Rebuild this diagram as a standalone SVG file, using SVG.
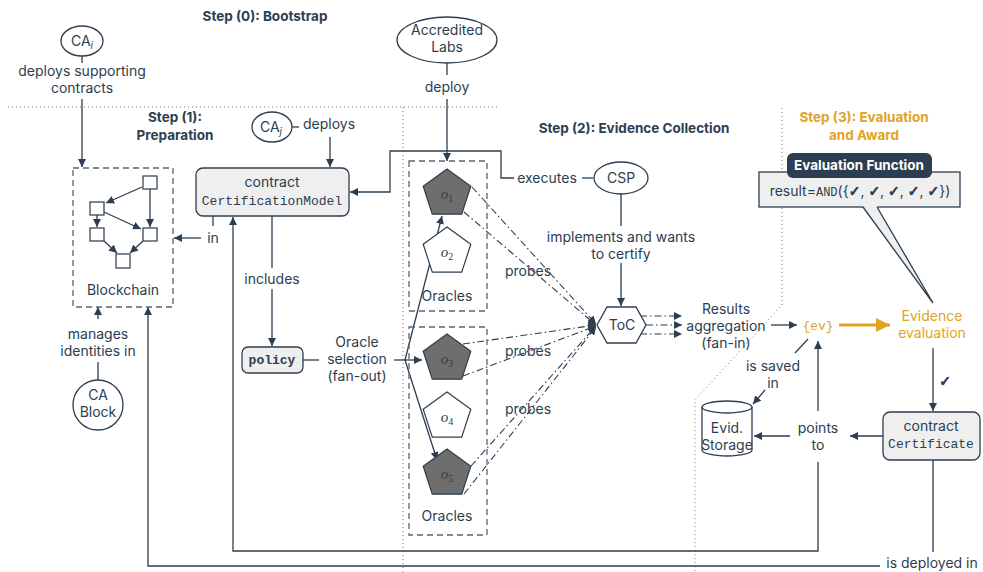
<svg xmlns="http://www.w3.org/2000/svg" width="983" height="572" viewBox="0 0 983 572">
  <style>
    .ln { stroke: #2c3e50; stroke-width: 1.3; fill: none; }
    .ar { marker-end: url(#ah); }
    .dd { stroke: #2c3e50; stroke-width: 1.1; fill: none; stroke-dasharray: 7 3 1.5 3; marker-end: url(#ah); }
    .sep { stroke: #777; stroke-width: 1; fill: none; stroke-dasharray: 1 3; }
    .grp { stroke: #5b6470; stroke-width: 1.3; fill: none; stroke-dasharray: 6 4; }
    .box { fill: #efefef; stroke: #2c3e50; stroke-width: 1.3; }
    .ell { fill: #fff; stroke: #2c3e50; stroke-width: 1.3; }
    .sq { fill: #fff; stroke: #3a4756; stroke-width: 1.3; }
    text { font-family: Inter, "Noto Sans", sans-serif; font-size: 14px; fill: #2c3e50; text-anchor: middle; }
    .b { font-weight: bold; font-size: 13.5px; }
    .gold { fill: #e1a325; }
    .m { font-family: "Liberation Mono", monospace; font-size: 13px; }
    .mt { font-family: "Liberation Serif", serif; font-style: italic; font-size: 15px; fill: #2c3e50; }
    .ck { font-family: "DejaVu Sans", sans-serif; font-weight: bold; stroke: #2c3e50; stroke-width: 0.9; }
    .pd { fill: #6e6e6e; stroke: #2c3e50; stroke-width: 1.2; }
    .pw { fill: #fff; stroke: #2c3e50; stroke-width: 1.2; }
  </style>
  <defs>
    <marker id="ah" viewBox="0 0 10 10" refX="10" refY="5" markerWidth="8" markerHeight="8" markerUnits="userSpaceOnUse" orient="auto">
      <path d="M0,0 L10,5 L0,10 z" fill="#2c3e50"/>
    </marker>
    <marker id="ahg" viewBox="0 0 10 10" refX="10" refY="5" markerWidth="16" markerHeight="14" markerUnits="userSpaceOnUse" orient="auto">
      <path d="M0,0 L10,5 L0,10 z" fill="#e1a325"/>
    </marker>
    <polygon id="pent" points="0,-25 23.8,-7.7 14.7,20.2 -14.7,20.2 -23.8,-7.7"/>
  </defs>

  <!-- phase separators -->
  <g id="separators">
    <path class="sep" d="M8,107 H497"/>
    <path class="sep" d="M403,107 V572"/>
    <path class="sep" d="M782,108 V305 L695,400 V572"/>
  </g>

  <!-- phase titles -->
  <g id="titles">
    <text x="265" y="21" class="b">Step (0): Bootstrap</text>
    <text x="175" y="122" class="b">Step (1):</text>
    <text x="175" y="140" class="b">Preparation</text>
    <text x="634" y="133" class="b">Step (2): Evidence Collection</text>
    <text x="864" y="122" class="b gold">Step (3): Evaluation</text>
    <text x="864" y="140" class="b gold">and Award</text>
  </g>

  <!-- connectors -->
  <g id="connectors">
    <!-- CA_i deploys supporting contracts -->
    <path class="ln" d="M82,56 V63"/>
    <path class="ln ar" d="M82,99 V167"/>
    <!-- CA_j deploys -->
    <path class="ln" d="M292,127 H299"/>
    <path class="ln ar" d="M330,137 V167"/>
    <!-- CertificationModel in Blockchain -->
    <path class="ln" d="M213,216 V226"/>
    <path class="ln ar" d="M201,238 H174"/>
    <!-- includes policy -->
    <path class="ln" d="M272,216 V268"/>
    <path class="ln ar" d="M272,289 V346"/>
    <!-- CA Block manages identities -->
    <path class="ln" d="M98,380 V362"/>
    <path class="ln ar" d="M98,319 V307"/>
    <!-- Accredited labs deploy oracles -->
    <path class="ln" d="M447,63 V75"/>
    <path class="ln ar" d="M447,99 V161"/>
    <!-- CSP executes CertificationModel -->
    <path class="ln" d="M593,178 H582"/>
    <path class="ln ar" d="M514,178 H501 V151 H390 V192 H350"/>
    <!-- CSP implements ToC -->
    <path class="ln" d="M621,194 V226"/>
    <path class="ln ar" d="M621,263 V306"/>
    <!-- oracle selection fan-out -->
    <path class="ln" d="M303,360 H319"/>
    <path class="ln" d="M394,360 H405"/>
    <path class="ln ar" d="M405,360 L442,216"/>
    <path class="ln ar" d="M405,360 H422"/>
    <path class="ln ar" d="M405,360 L437,460"/>
    <!-- probes -->
    <path class="dd" d="M472,187 L596,324"/>
    <path class="dd" d="M464,212 L596,325"/>
    <path class="dd" d="M463,344 L596,325"/>
    <path class="dd" d="M463,376 L596,326"/>
    <path class="dd" d="M471,466 L596,326"/>
    <path class="dd" d="M464,494 L596,327"/>
    <!-- results aggregation fan-in -->
    <path class="dd" d="M640,316 H682"/>
    <path class="dd" d="M646,325 H682"/>
    <path class="dd" d="M640,334 H682"/>
    <path class="ln ar" d="M771,325 H797"/>
    <!-- evidence evaluation -->
    <path d="M839,325 H890" stroke="#e1a325" stroke-width="3" fill="none" marker-end="url(#ahg)"/>
    <path class="ln ar" d="M933,348 V411"/>
    <!-- ev is saved in storage -->
    <path class="ln" d="M808,339 L795,353"/>
    <path class="ln ar" d="M765,390 L753,404"/>
    <!-- Certificate points to -->
    <path class="ln ar" d="M883,436 H850"/>
    <path class="ln ar" d="M790,436 H754"/>
    <path class="ln ar" d="M818,411 V341"/>
    <path class="ln ar" d="M818,462 V551 H233 V217"/>
    <!-- Certificate is deployed in Blockchain -->
    <path class="ln" d="M933,460 V552"/>
    <path class="ln ar" d="M880,566 H148 V307"/>
  </g>

  <!-- CA_i -->
  <g id="ca-i">
    <ellipse class="ell" cx="82" cy="41" rx="21" ry="15"/>
    <text x="82" y="46">CA<tspan font-size="10" font-style="italic" dy="3">i</tspan></text>
    <text x="82" y="76">deploys supporting</text>
    <text x="82" y="93">contracts</text>
  </g>

  <!-- Blockchain -->
  <g id="blockchain">
    <rect class="grp" x="73" y="168" width="100" height="139"/>
    <rect class="sq" x="143" y="176" width="14" height="13"/>
    <rect class="sq" x="90" y="202" width="14" height="13"/>
    <rect class="sq" x="90" y="228" width="14" height="13"/>
    <rect class="sq" x="143" y="228" width="14" height="13"/>
    <rect class="sq" x="116" y="254" width="14" height="14"/>
    <path class="ln ar" stroke-width="1.1" d="M142,187 L106,203"/>
    <path class="ln ar" stroke-width="1.1" d="M150,189 V227"/>
    <path class="ln ar" stroke-width="1.1" d="M97,215 V227"/>
    <path class="ln ar" stroke-width="1.1" d="M104,212 L141,229"/>
    <path class="ln ar" stroke-width="1.1" d="M104,241 L117,253"/>
    <path class="ln ar" stroke-width="1.1" d="M143,241 L130,253"/>
    <text x="123" y="295">Blockchain</text>
    <text x="213" y="243">in</text>
  </g>

  <!-- CA Block -->
  <g id="ca-block">
    <text x="98" y="339">manages</text>
    <text x="98" y="356">identities in</text>
    <circle class="ell" cx="98" cy="405" r="25"/>
    <text x="98" y="400">CA</text>
    <text x="98" y="417">Block</text>
  </g>

  <!-- CA_j -->
  <g id="ca-j">
    <ellipse class="ell" cx="272" cy="127" rx="20" ry="15"/>
    <text x="271" y="132">CA<tspan font-size="10" font-style="italic" dy="3">j</tspan></text>
    <text x="329" y="129">deploys</text>
  </g>

  <!-- contract CertificationModel -->
  <g id="certification-model">
    <rect class="box" x="196" y="168" width="153" height="48" rx="7"/>
    <text x="272" y="187">contract</text>
    <text x="272" y="205" class="m">CertificationModel</text>
    <text x="272" y="284">includes</text>
  </g>

  <!-- policy -->
  <g id="policy">
    <rect class="box" x="242" y="347" width="61" height="26" rx="6"/>
    <text x="272" y="364" class="m" font-weight="bold">policy</text>
    <text x="357" y="347">Oracle</text>
    <text x="357" y="364">selection</text>
    <text x="357" y="381">(fan-out)</text>
  </g>

  <!-- Accredited Labs -->
  <g id="accredited-labs">
    <ellipse class="ell" cx="447" cy="40" rx="50" ry="23"/>
    <text x="447" y="35">Accredited</text>
    <text x="447" y="52">Labs</text>
    <text x="447" y="92">deploy</text>
  </g>

  <!-- oracle group 1 -->
  <g id="oracles-a">
    <rect class="grp" x="409" y="161" width="78" height="150"/>
    <use href="#pent" class="pd" x="447" y="194"/>
    <text x="447" y="199" class="mt">o<tspan font-size="10" font-style="normal" dy="3">1</tspan></text>
    <use href="#pent" class="pw" x="447" y="252"/>
    <text x="447" y="257" class="mt">o<tspan font-size="10" font-style="normal" dy="3">2</tspan></text>
    <text x="447" y="301">Oracles</text>
  </g>

  <!-- oracle group 2 -->
  <g id="oracles-b">
    <rect class="grp" x="409" y="327" width="78" height="208"/>
    <use href="#pent" class="pd" x="447" y="359"/>
    <text x="447" y="364" class="mt">o<tspan font-size="10" font-style="normal" dy="3">3</tspan></text>
    <use href="#pent" class="pw" x="447" y="417"/>
    <text x="447" y="422" class="mt">o<tspan font-size="10" font-style="normal" dy="3">4</tspan></text>
    <use href="#pent" class="pd" x="447" y="474"/>
    <text x="447" y="479" class="mt">o<tspan font-size="10" font-style="normal" dy="3">5</tspan></text>
    <text x="447" y="521">Oracles</text>
  </g>

  <!-- probes labels -->
  <g id="probe-labels">
    <text x="528" y="276">probes</text>
    <text x="528" y="356">probes</text>
    <text x="528" y="414">probes</text>
  </g>

  <!-- CSP -->
  <g id="csp">
    <ellipse class="ell" cx="621" cy="178" rx="27" ry="16"/>
    <text x="621" y="183">CSP</text>
    <text x="547" y="183">executes</text>
    <text x="621" y="242">implements and wants</text>
    <text x="621" y="259">to certify</text>
  </g>

  <!-- ToC -->
  <g id="toc">
    <polygon class="ell" points="597,325 607,307 636,307 646,325 636,343 607,343"/>
    <text x="622" y="330" font-family="Liberation Serif, serif" font-size="13">ToC</text>
  </g>

  <!-- results aggregation -->
  <g id="aggregation">
    <text x="726" y="314">Results</text>
    <text x="726" y="331">aggregation</text>
    <text x="726" y="348">(fan-in)</text>
  </g>

  <!-- evidence set -->
  <g id="ev">
    <text x="818" y="330" class="m gold">{ev}</text>
    <text x="773" y="371">is saved</text>
    <text x="773" y="388">in</text>
  </g>

  <!-- evaluation function callout -->
  <g id="evaluation-function">
    <rect class="box" x="759" y="172" width="201" height="35"/>
    <polygon points="863,206 877,206 933,303" fill="#efefef" stroke="none"/>
    <path class="ln" d="M863,207 L933,303 L877,207"/>
    <rect x="787" y="153" width="145" height="25" rx="6" fill="#2c3e50"/>
    <text x="859" y="170" class="b" style="fill:#fff">Evaluation Function</text>
    <text x="860" y="196">result=<tspan font-family="Liberation Mono, monospace" font-size="12">AND</tspan>({<tspan class="ck">✓</tspan>, <tspan class="ck">✓</tspan>, <tspan class="ck">✓</tspan>, <tspan class="ck">✓</tspan>, <tspan class="ck">✓</tspan>})</text>
  </g>

  <!-- evidence evaluation -->
  <g id="evidence-evaluation">
    <text x="932" y="321" class="gold">Evidence</text>
    <text x="932" y="338" class="gold">evaluation</text>
    <text x="945" y="386" class="ck" font-size="17">✓</text>
  </g>

  <!-- contract Certificate -->
  <g id="certificate">
    <rect class="box" x="883" y="412" width="97" height="48" rx="7"/>
    <text x="931" y="431">contract</text>
    <text x="931" y="448" class="m">Certificate</text>
    <text x="818" y="433">points</text>
    <text x="818" y="450">to</text>
    <text x="932" y="568">is deployed in</text>
  </g>

  <!-- evidence storage -->
  <g id="evid-storage">
    <path class="ell" d="M702,407 V450 A25,6 0 0 0 752,450 V407"/>
    <ellipse class="ell" cx="727" cy="407" rx="25" ry="6"/>
    <text x="727" y="433">Evid.</text>
    <text x="727" y="450">Storage</text>
  </g>
</svg>
